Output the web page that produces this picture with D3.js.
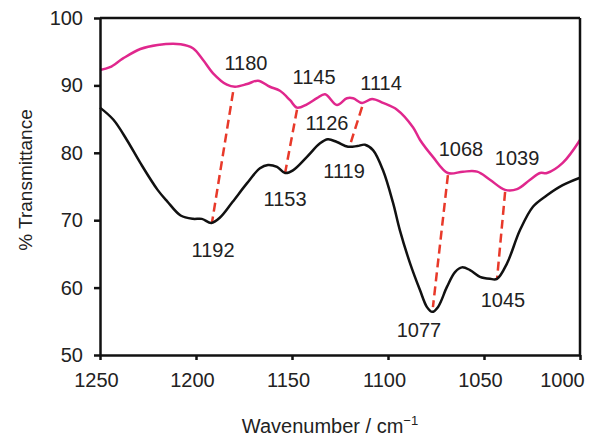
<!DOCTYPE html>
<html>
<head>
<meta charset="utf-8">
<script src="https://cdn.jsdelivr.net/npm/d3@7"></script>
<style>
  body { margin: 0; background: #fff; }
  text { font-family: "Liberation Sans", Arial, sans-serif; fill: #222; }
</style>
</head>
<body>
<div id="chart"></div>
<script>
// black spectrum
let blackWn = [1250, 1243, 1236, 1229, 1220, 1215, 1208, 1201.6, 1197, 1192, 1187.5, 1181, 1173.4, 1166.7, 1162.5, 1157.8,
    1153.6, 1149.5, 1142.2, 1135.4, 1131.3, 1126.6, 1120.8, 1116, 1112, 1107.8, 1102.6, 1097.4, 1093.8, 1088.5, 1083.3,
    1079.7, 1077, 1074, 1069.3, 1065.1, 1061.5, 1057.3, 1052.1, 1046.9, 1043.2, 1038, 1031.3, 1024.5, 1017.2, 1009, 1000];
let blackT = [86.7, 84.9, 81.9, 78.5, 74.5, 72.8, 70.7, 70.2, 70.2, 69.6, 70.4, 72.7, 75.5, 77.7, 78.2, 77.9,
    77, 77.4, 79.4, 81.4, 82, 81.6, 80.9, 81, 81.2, 80.4, 77.4, 72.6, 68.5, 63.6, 59.6,
    57.1, 56.4, 57.1, 60.1, 62.3, 63, 62.6, 61.6, 61.3, 61.3, 63.6, 68.5, 72, 73.7, 75.2, 76.3];

// pink spectrum
let pinkWn = [1250, 1244.8, 1238, 1229, 1220, 1208, 1201.6, 1196.4, 1191.1, 1183.9, 1179.7, 1173.4, 1167.7, 1161.5, 1156.3,
    1151, 1147.4, 1142.2, 1137, 1132.8, 1126.6, 1121.4, 1118.2, 1113.5, 1108.3, 1102.6, 1095.3, 1087, 1083.3, 1076.6,
    1068.8, 1061, 1053.6, 1046.9, 1039, 1032.8, 1026, 1020.8, 1017.2, 1009, 1000];
let pinkT = [92.3, 92.7, 94, 95.4, 96, 96.1, 95.5, 93.8, 91.8, 90.1, 89.8, 90.2, 90.7, 89.8, 89.2,
    87.8, 86.7, 87.2, 88.1, 88.7, 87.1, 88.1, 88.1, 87.4, 88, 87.4, 86.4, 83.8, 81.9, 79.4,
    77, 77.2, 77.2, 76, 74.5, 74.6, 76, 77, 77, 78.5, 81.9];

// dashed connectors (pink peak -> black peak)
let dashTopWn = [1180.7, 1147.4, 1113.5, 1068.8, 1039];
let dashTopT = [89, 86.4, 86.8, 76.7, 74.2];
let dashBotWn = [1191.7, 1153.6, 1119.3, 1076.6, 1043.2];
let dashBotT = [69.6, 77, 81.6, 57.1, 61.3];

// peak labels
let labelText = ["1180", "1145", "1114", "1126", "1119", "1153", "1192", "1068", "1039", "1045", "1077"];
let labelWn = [1174, 1138.5, 1103.6, 1131.8, 1122.9, 1153.6, 1191.1, 1062, 1032.8, 1040.1, 1083.9];
let labelT = [92.3, 90.2, 89.3, 83.4, 76.3, 72.1, 64.5, 79.5, 78.2, 57.1, 52.7];

let xTicks = [1250, 1200, 1150, 1100, 1050, 1000];
let yTicks = [50, 60, 70, 80, 90, 100];

let margin = {top: 18, right: 12, bottom: 83, left: 100};
let width = 592 - margin.left - margin.right;
let height = 438 - margin.top - margin.bottom;

let svg = d3.select("#chart").append("svg")
    .attr("width", 592)
    .attr("height", 438)
    .append("g")
    .attr("transform", "translate(" + margin.left + "," + margin.top + ")");

let x = d3.scaleLinear().domain([1250, 1000]).range([0, width]);
let y = d3.scaleLinear().domain([50, 100]).range([height, 0]);

let line = d3.line()
    .x(function (d) { return x(d[0]); })
    .y(function (d) { return y(d[1]); })
    .curve(d3.curveCatmullRom.alpha(0.5));

let pinkData = pinkWn.map(function (w, i) { return [w, pinkT[i]]; });
let blackData = blackWn.map(function (w, i) { return [w, blackT[i]]; });

// dashed lines
svg.selectAll(".dash")
    .data(dashTopWn)
    .enter().append("line")
    .attr("x1", function (d) { return x(d); })
    .attr("y1", function (d, i) { return y(dashTopT[i]); })
    .attr("x2", function (d, i) { return x(dashBotWn[i]); })
    .attr("y2", function (d, i) { return y(dashBotT[i]); })
    .attr("stroke", "#e8392a")
    .attr("stroke-width", 2.5)
    .attr("stroke-dasharray", "9,5");

svg.append("path")
    .datum(pinkData)
    .attr("fill", "none")
    .attr("stroke", "#e0278d")
    .attr("stroke-width", 2.5)
    .attr("d", line);

svg.append("path")
    .datum(blackData)
    .attr("fill", "none")
    .attr("stroke", "#111")
    .attr("stroke-width", 2.5)
    .attr("d", line);

// frame top & right
svg.append("line")
    .attr("x1", 0).attr("x2", width).attr("y1", 0).attr("y2", 0)
    .attr("stroke", "#111").attr("stroke-width", 2.5);
svg.append("line")
    .attr("x1", width).attr("x2", width).attr("y1", 0).attr("y2", height)
    .attr("stroke", "#111").attr("stroke-width", 2.5);

let xAxis = svg.append("g")
    .attr("transform", "translate(0," + height + ")")
    .call(d3.axisBottom(x).tickValues(xTicks).tickFormat(d3.format("d"))
        .tickSize(5).tickPadding(13).tickSizeOuter(0));

let yAxis = svg.append("g")
    .call(d3.axisLeft(y).tickValues(yTicks).tickFormat(d3.format("d"))
        .tickSize(6).tickPadding(11).tickSizeOuter(0));

[xAxis, yAxis].forEach(function (a) {
    a.select(".domain").attr("stroke", "#111").attr("stroke-width", 2.5);
    a.selectAll(".tick line").attr("stroke", "#111").attr("stroke-width", 2.5);
    a.selectAll(".tick text").attr("font-size", 20).attr("font-family", "Liberation Sans, Arial, sans-serif").attr("fill", "#222");
});

// x labels sit a little left of their ticks; last one kept inside the frame
xAxis.selectAll(".tick text")
    .attr("dx", function (d) { return d === 1000 ? -18 : -4; });

// peak labels
svg.selectAll(".peak")
    .data(labelText)
    .enter().append("text")
    .attr("x", function (d, i) { return x(labelWn[i]); })
    .attr("y", function (d, i) { return y(labelT[i]); })
    .attr("text-anchor", "middle")
    .attr("font-size", 20)
    .text(function (d) { return d; });

// axis titles
let xt = svg.append("text")
    .attr("x", 230)
    .attr("y", 415)
    .attr("text-anchor", "middle")
    .attr("font-size", 20)
    .text("Wavenumber / cm");
xt.append("tspan")
    .attr("font-size", 13)
    .attr("dy", -8)
    .text("\u2212" + "1");

svg.append("text")
    .attr("transform", "translate(-68," + 162 + ") rotate(-90)")
    .attr("text-anchor", "middle")
    .attr("font-size", 19)
    .text("% Transmittance");
</script>
</body>
</html>
